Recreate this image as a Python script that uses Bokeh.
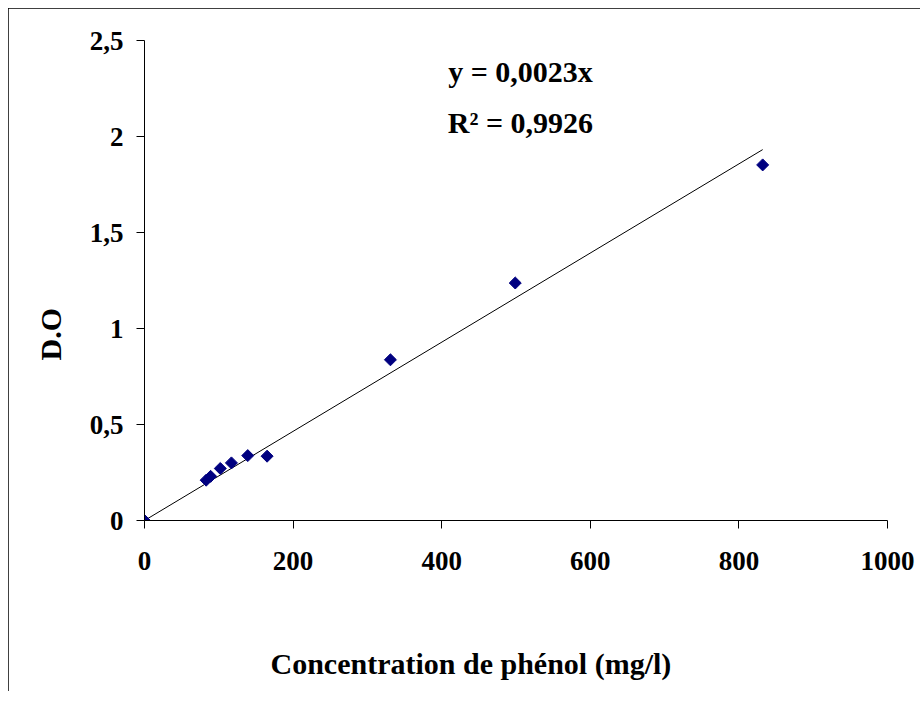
import numpy as np
from bokeh.plotting import figure
from bokeh.models import Range1d, FixedTicker, Label, Title
from bokeh.embed import file_html
from bokeh.resources import INLINE

# --- data ---
conc = [0, 83, 89, 102, 117, 139, 165, 331, 499, 832]          # mg/l
do_vals = [0, 0.21, 0.23, 0.271, 0.300, 0.338, 0.335, 0.837, 1.237, 1.852]

x_ticks = [0, 200, 400, 600, 800, 1000]
x_tick_labels = ["0", "200", "400", "600", "800", "1000"]
y_ticks = [0, 0.5, 1, 1.5, 2, 2.5]
y_tick_labels = ["0", "0,5", "1", "1,5", "2", "2,5"]

eq_text = "y = 0,0023x"
r2_text = "R² = 0,9926"
x_title = "Concentration de phénol (mg/l)"
y_title = "D.O"

# linear fit through origin (trend line)
xa = np.array(conc, dtype=float)
ya = np.array(do_vals, dtype=float)
slope = float((xa * ya).sum() / (xa * xa).sum())
trend_x = [0.0, float(xa.max())]
trend_y = [slope * v for v in trend_x]

FONT = "Liberation Serif"

p = figure(width=912, height=683, output_backend="svg", toolbar_location=None,
           x_range=Range1d(0, 1000), y_range=Range1d(0, 2.5),
           min_border_left=136, min_border_right=33,
           min_border_top=32, min_border_bottom=171)
p.styles = {"position": "relative", "left": "8px", "top": "8px",
            "outline": "1px solid black", "outline-offset": "-1px"}
p.outline_line_color = None
p.xgrid.visible = False
p.ygrid.visible = False
p.background_fill_color = "white"
p.border_fill_color = "white"

p.line(trend_x, trend_y, line_color="black", line_width=1)
p.scatter(conc, do_vals, marker="square", angle=np.pi / 4, size=8.5,
          fill_color="#000080", line_color="#000080")

p.xaxis.ticker = FixedTicker(ticks=x_ticks)
p.yaxis.ticker = FixedTicker(ticks=y_ticks)
p.xaxis.major_label_overrides = {t: l for t, l in zip(x_ticks, x_tick_labels)}
p.yaxis.major_label_overrides = {t: l for t, l in zip(y_ticks, y_tick_labels)}

for ax in (p.xaxis[0], p.yaxis[0]):
    ax.axis_line_color = "black"
    ax.major_tick_line_color = "black"
    ax.major_tick_in = 0
    ax.major_tick_out = 8
    ax.minor_tick_in = 0
    ax.minor_tick_out = 0
    ax.major_label_text_font = FONT
    ax.major_label_text_font_style = "bold"
    ax.major_label_text_font_size = "27px"
    ax.major_label_text_color = "black"

p.xaxis.major_label_standoff = 23
p.yaxis.major_label_standoff = 13

# blank spacer label below the x axis so that the title sits lower
p.xaxis.axis_label = " "
p.xaxis.axis_label_text_font = FONT
p.xaxis.axis_label_text_font_size = "30px"
p.xaxis.axis_label_standoff = 34

# axis titles (placed off-centre as in the reference)
p.add_layout(Title(text=x_title, align="left", offset=126, standoff=4,
                   text_font=FONT, text_font_style="bold",
                   text_font_size="30px", text_color="black"), "below")
p.add_layout(Title(text=y_title, align="left", offset=160, standoff=40,
                   text_font=FONT, text_font_style="bold",
                   text_font_size="30px", text_color="black"), "left")

for txt, yy in ((eq_text, 2.34), (r2_text, 2.075)):
    p.add_layout(Label(x=506, y=yy, text=txt, text_align="center",
                       text_baseline="middle", text_font=FONT,
                       text_font_style="bold", text_font_size="30px",
                       text_color="black"))

open("out.html", "w").write(file_html(p, INLINE))
